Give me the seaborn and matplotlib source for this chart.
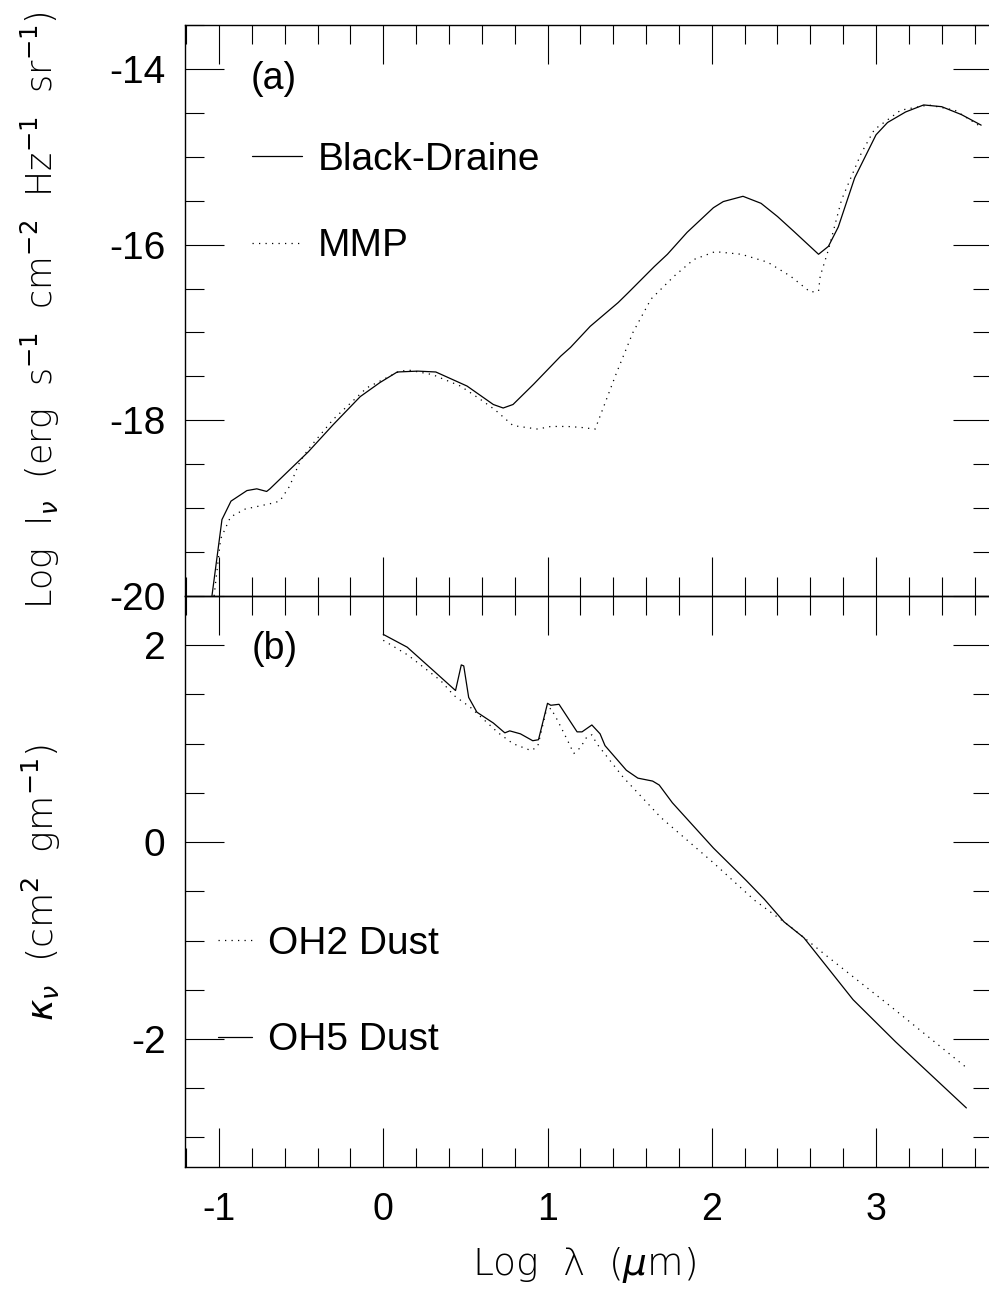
import matplotlib
matplotlib.use("Agg")
import matplotlib.pyplot as plt
import matplotlib.ticker as mticker
import numpy as np
import pandas as pd
import seaborn as sns

# ---- panel (a): log specific intensity vs log wavelength ----
bd_x = [-1.043, -0.982, -0.927, -0.83, -0.77, -0.71, -0.69, -0.457, -0.305, -0.14,
        -0.02, 0.085, 0.21, 0.32, 0.51, 0.67, 0.73, 0.79, 0.915, 1.08, 1.14, 1.26,
        1.43, 1.49, 1.65, 1.73, 1.85, 2.01, 2.07, 2.19, 2.30, 2.40, 2.50, 2.65, 2.71,
        2.77, 2.87, 3.0, 3.07, 3.18, 3.29, 3.40, 3.52, 3.64]
bd_y = [-20.0, -19.13, -18.92, -18.80, -18.78, -18.81, -18.78, -18.36, -18.05, -17.73,
        -17.57, -17.45, -17.44, -17.45, -17.61, -17.82, -17.86, -17.82, -17.59, -17.27,
        -17.17, -16.93, -16.66, -16.55, -16.25, -16.11, -15.86, -15.58, -15.51, -15.45,
        -15.53, -15.68, -15.85, -16.11, -16.02, -15.80, -15.24, -14.75, -14.61, -14.49,
        -14.41, -14.43, -14.52, -14.64]

mmp_x = [-1.03, -0.99, -0.93, -0.84, -0.69, -0.63, -0.57, -0.51, -0.457, -0.305, -0.10,
         0.10, 0.16, 0.30, 0.47, 0.59, 0.68, 0.79, 0.94, 1.02, 1.12, 1.20, 1.29, 1.42,
         1.52, 1.63, 1.77, 1.89, 2.02, 2.18, 2.34, 2.48, 2.60, 2.65, 2.66, 2.71, 2.79,
         2.91, 2.99, 3.15, 3.32, 3.48, 3.64]
mmp_y = [-20.0, -19.35, -19.10, -19.01, -18.95, -18.92, -18.75, -18.48, -18.33, -17.99,
         -17.63, -17.44, -17.43, -17.48, -17.61, -17.76, -17.88, -18.06, -18.10, -18.07,
         -18.07, -18.08, -18.10, -17.46, -17.00, -16.62, -16.36, -16.17, -16.08, -16.11,
         -16.20, -16.36, -16.54, -16.53, -16.36, -16.06, -15.49, -14.96, -14.69, -14.47,
         -14.41, -14.47, -14.66]

# ---- panel (b): log dust opacity vs log wavelength ----
oh5_x = [0.0, 0.146, 0.30, 0.44, 0.475, 0.49, 0.52, 0.57, 0.67, 0.74, 0.77, 0.835, 0.91,
         0.945, 1.0, 1.02, 1.07, 1.18, 1.21, 1.27, 1.32, 1.35, 1.48, 1.55, 1.64, 1.68,
         1.76, 2.01, 2.21, 2.32, 2.44, 2.56, 2.86, 3.12, 3.55]
oh5_y = [2.11, 1.98, 1.75, 1.54, 1.80, 1.79, 1.47, 1.32, 1.21, 1.11, 1.13, 1.10, 1.03,
         1.04, 1.41, 1.39, 1.40, 1.12, 1.12, 1.19, 1.10, 0.98, 0.73, 0.65, 0.62, 0.58,
         0.40, -0.06, -0.39, -0.58, -0.81, -0.97, -1.60, -2.03, -2.70]

oh2_x = [0.0, 0.15, 0.35, 0.43, 0.53, 0.70, 0.79, 0.90, 0.94, 0.99, 1.02, 1.06, 1.12,
         1.16, 1.20, 1.24, 1.27, 1.30, 1.46, 1.69, 2.01, 2.26, 2.48, 2.68, 3.09, 3.55]
oh2_y = [2.05, 1.90, 1.64, 1.49, 1.37, 1.11, 1.00, 0.93, 0.97, 1.32, 1.36, 1.24, 1.04,
         0.90, 0.96, 1.07, 1.09, 1.00, 0.66, 0.25, -0.21, -0.59, -0.86, -1.13, -1.67, -2.29]

x_ticks = [-1, 0, 1, 2, 3]
ya_ticks = [-20, -18, -16, -14]
yb_ticks = [-2, 0, 2]

sns.set_theme(style="ticks")
plt.rcParams["font.family"] = ["Liberation Sans", "DejaVu Sans"]
plt.rcParams["axes.unicode_minus"] = False
plt.rcParams["mathtext.fontset"] = "dejavusans"
for key in ("text.color", "axes.labelcolor", "xtick.color", "ytick.color",
            "axes.edgecolor"):
    plt.rcParams[key] = "black"

W, H = 989, 1291
fig = plt.figure(figsize=(W / 100, H / 100), dpi=100)
fig.patch.set_facecolor("white")

left_px, right_px = 185, 992
top_px, mid_px, bot_px = 25, 596, 1167
def fig_rect(t, b):
    return [left_px / W, 1 - b / H, (right_px - left_px) / W, (b - t) / H]

ax_a = fig.add_axes(fig_rect(top_px, mid_px))
ax_b = fig.add_axes(fig_rect(mid_px, bot_px))

dotted = (0, (1.0, 4.2))
lw = 0.9

df_bd = pd.DataFrame({"x": bd_x, "y": bd_y})
df_mmp = pd.DataFrame({"x": mmp_x, "y": mmp_y})
df_oh5 = pd.DataFrame({"x": oh5_x, "y": oh5_y})
df_oh2 = pd.DataFrame({"x": oh2_x, "y": oh2_y})

sns.lineplot(data=df_bd, x="x", y="y", ax=ax_a, color="black", lw=lw,
             estimator=None, sort=False, label="Black-Draine")
sns.lineplot(data=df_mmp, x="x", y="y", ax=ax_a, color="black", lw=lw,
             linestyle=dotted, estimator=None, sort=False, label="MMP")
sns.lineplot(data=df_oh2, x="x", y="y", ax=ax_b, color="black", lw=lw,
             linestyle=dotted, estimator=None, sort=False, label="OH2 Dust")
sns.lineplot(data=df_oh5, x="x", y="y", ax=ax_b, color="black", lw=lw,
             estimator=None, sort=False, label="OH5 Dust")

xlim = (-1.207, 3.706)
ax_a.set_xlim(*xlim)
ax_b.set_xlim(*xlim)
ax_a.set_ylim(-20, -13.5)
ax_b.set_ylim(-3.3, 2.5)

for ax, yt in ((ax_a, ya_ticks), (ax_b, yb_ticks)):
    ax.set_xlabel("")
    ax.set_ylabel("")
    ax.xaxis.set_major_locator(mticker.FixedLocator(x_ticks))
    ax.xaxis.set_minor_locator(mticker.MultipleLocator(0.2))
    ax.yaxis.set_major_locator(mticker.FixedLocator(yt))
    ax.yaxis.set_minor_locator(mticker.MultipleLocator(0.5))
    ax.xaxis.set_major_formatter(mticker.FormatStrFormatter("%d"))
    ax.yaxis.set_major_formatter(mticker.FormatStrFormatter("%d"))
    ax.tick_params(which="both", direction="in", top=True, right=True,
                   color="black", width=0.8, labelcolor="black")
    ax.tick_params(which="major", length=28)
    ax.tick_params(which="minor", length=14)
    ax.tick_params(axis="y", pad=14, labelsize=28)
    ax.tick_params(axis="x", pad=18, labelsize=27)
    for sp in ax.spines.values():
        sp.set_linewidth(1.0)
        sp.set_color("black")
    ax.set_facecolor("none")

ax_a.tick_params(axis="x", labelbottom=False)

leg_fs = 28
ax_a.legend(loc="upper left", bbox_to_anchor=(0.083, 0.795), frameon=False,
            fontsize=leg_fs, handlelength=1.29, handletextpad=0.41,
            labelspacing=1.29, borderpad=0, borderaxespad=0)
ax_b.legend(loc="upper left", bbox_to_anchor=(0.041, 0.422), frameon=False,
            fontsize=leg_fs, handlelength=0.88, handletextpad=0.41,
            labelspacing=1.55, borderpad=0, borderaxespad=0)

ax_a.text(0.110, 0.905, "(a)", transform=ax_a.transAxes, fontsize=27,
          ha="center", va="center")
ax_b.text(0.1115, 0.907, "(b)", transform=ax_b.transAxes, fontsize=27,
          ha="center", va="center")

lab_kw = dict(fontweight="light", family=["DejaVu Sans"], color="black")
fig.text(40 / W, 1 - 310 / H,
         r"Log  I$_\nu$  (erg  s$^{-1}$  cm$^{-2}$  Hz$^{-1}$  sr$^{-1}$)",
         rotation=90, ha="center", va="center", fontsize=25, **lab_kw)
fig.text(41 / W, 1 - 883 / H, r"$\kappa_\nu$  (cm$^2$  gm$^{-1}$)",
         rotation=90, ha="center", va="center", fontsize=26, **lab_kw)
fig.text(584 / W, 1 - 1265 / H, r"Log  λ  ($\mu$m)",
         ha="center", va="center", fontsize=27, **lab_kw)

fig.savefig("out.png", dpi=100, facecolor="white")
